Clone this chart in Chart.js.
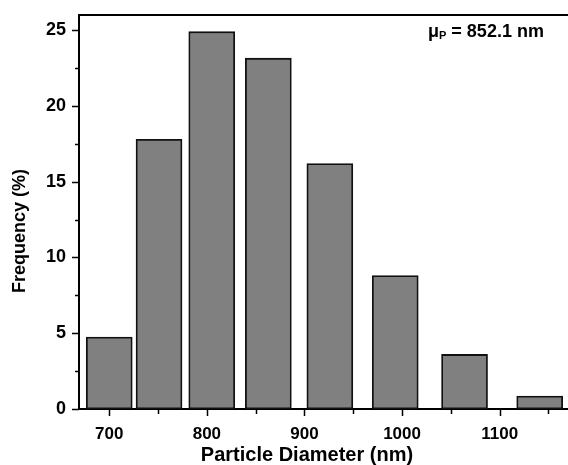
<!DOCTYPE html>
<html>
<head>
<meta charset="utf-8">
<script src="https://cdn.jsdelivr.net/npm/chart.js@4.4.1/dist/chart.umd.min.js"></script>
<style>
  html, body { margin: 0; padding: 0; background: #fff; overflow: hidden; }
  #wrap { width: 568px; height: 465px; }
</style>
</head>
<body>
<div id="wrap"><canvas id="hist"></canvas></div>
<script>
// 입자 크기 분포 데이터
const binCenters = [700, 751, 805, 863, 926, 993, 1064, 1141];
const freqPct = [4.75, 17.8, 24.9, 23.15, 16.2, 8.8, 3.6, 0.86];
const xTickValues = [700, 750, 800, 850, 900, 950, 1000, 1050, 1100, 1150];
const xMajorTicks = [700, 800, 900, 1000, 1100];
const yTickValues = [0, 2.5, 5, 7.5, 10, 12.5, 15, 17.5, 20, 22.5, 25];
const yMajorTicks = [0, 5, 10, 15, 20, 25];
const meanLabel = '852.1 nm';

const FONT = "'Liberation Sans', Arial, sans-serif";

// 축 눈금(주/보조), 라벨, 제목, 상단 테두리, 주석 그리기
const decorPlugin = {
  id: 'decor',
  afterDraw(chart) {
    const { ctx, chartArea: { left, right, top, bottom }, scales: { x, y } } = chart;
    ctx.save();
    ctx.strokeStyle = '#000';
    ctx.lineWidth = 2;
    ctx.beginPath();
    ctx.moveTo(left - 1, top); ctx.lineTo(right + 2, top);
    ctx.stroke();

    ctx.lineWidth = 1.5;
    ctx.beginPath();
    yTickValues.forEach(v => {
      const py = Math.round(y.getPixelForValue(v)) + 0.5;
      const len = yMajorTicks.includes(v) ? 7 : 4;
      ctx.moveTo(left - len, py); ctx.lineTo(left, py);
    });
    xTickValues.forEach(v => {
      const px = Math.round(x.getPixelForValue(v)) + 0.5;
      const len = xMajorTicks.includes(v) ? 7 : 5;
      ctx.moveTo(px, bottom); ctx.lineTo(px, bottom + len);
    });
    ctx.stroke();

    ctx.fillStyle = '#000';
    ctx.textAlign = 'center'; ctx.textBaseline = 'alphabetic';
    ctx.font = 'bold 17px ' + FONT;
    xMajorTicks.forEach(v => ctx.fillText(String(v), x.getPixelForValue(v), 439));

    ctx.textAlign = 'right'; ctx.textBaseline = 'middle';
    ctx.font = 'bold 18px ' + FONT;
    yMajorTicks.forEach(v => ctx.fillText(String(v), 66, y.getPixelForValue(v)));

    ctx.textAlign = 'center';
    ctx.font = 'bold 20px ' + FONT;
    ctx.fillText('Particle Diameter (nm)', 307, 455);
    ctx.save();
    ctx.translate(20, 231);
    ctx.rotate(-Math.PI / 2);
    ctx.font = 'bold 18px ' + FONT;
    ctx.fillText('Frequency (%)', 0, 0);
    ctx.restore();

    ctx.textAlign = 'left'; ctx.textBaseline = 'alphabetic';
    let ax = 428;
    ctx.font = 'bold 18px ' + FONT;
    ctx.fillText('μ', ax, 37);
    ax += ctx.measureText('μ').width;
    ctx.font = 'bold 11px ' + FONT;
    ctx.fillText('P', ax, 39);
    ax += ctx.measureText('P').width;
    ctx.font = 'bold 18px ' + FONT;
    ctx.fillText(' = ' + meanLabel, ax, 37);
    ctx.restore();
  }
};

const el = document.getElementById('hist');
el.width = 568; el.height = 465;
el.style.width = '568px'; el.style.height = '465px';

new Chart(el, {
  type: 'bar',
  data: {
    datasets: [{
      data: binCenters.map((c, i) => ({ x: c, y: freqPct[i] })),
      backgroundColor: '#808080',
      borderColor: '#111',
      borderWidth: 1.8,
      borderSkipped: false,
      barThickness: 46
    }]
  },
  options: {
    animation: false, animations: false,
    responsive: false, maintainAspectRatio: false,
    layout: { padding: { top: 15, right: 0, left: 0, bottom: 0 } },
    plugins: { legend: { display: false }, tooltip: { enabled: false } },
    scales: {
      x: {
        type: 'linear', min: 669, max: 1170, offset: false,
        afterFit: s => { s.height = 56; },
        grid: { display: false, offset: false },
        border: { display: true, color: '#000', width: 2 },
        ticks: { display: false }
      },
      y: {
        min: 0, max: 26,
        afterFit: s => { s.width = 79; },
        grid: { display: false },
        border: { display: true, color: '#000', width: 2 },
        ticks: { display: false }
      }
    }
  },
  plugins: [decorPlugin]
});
</script>
</body>
</html>
